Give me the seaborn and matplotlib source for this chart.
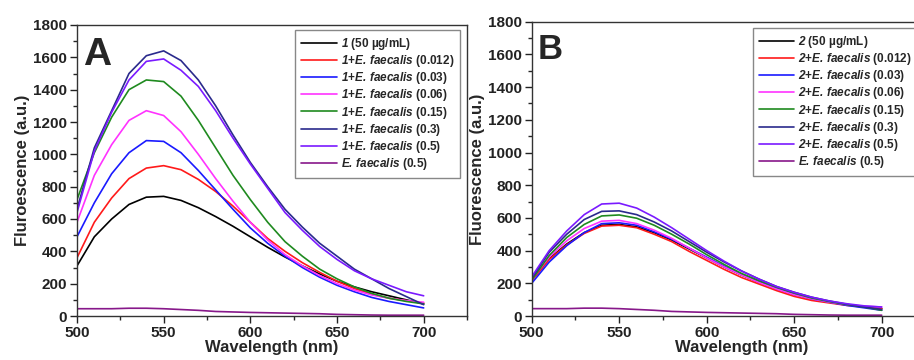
import numpy as np
import pandas as pd
import seaborn as sns
import matplotlib
matplotlib.use("Agg")
import matplotlib.pyplot as plt
from matplotlib.ticker import MultipleLocator

# ---------------- data ----------------
wavelength = list(range(500, 701, 10))

conc_labels = ["(50 µg/mL)", "(0.012)", "(0.03)", "(0.06)", "(0.15)", "(0.3)", "(0.5)", "(0.5)"]
colors = ["#000000", "#ff1a1a", "#1a1aff", "#ff33ff", "#1f8a1f", "#2a2a8c", "#7a1aff", "#87188a"]

# Panel A (compound 1)
a_1 = [310, 490, 600, 690, 735, 740, 715, 670, 615, 555, 490, 425, 365, 310, 260, 215, 180, 150, 125, 100, 75]
a_012 = [360, 580, 730, 850, 915, 930, 905, 845, 770, 680, 580, 480, 400, 330, 270, 215, 170, 135, 110, 95, 80]
a_03 = [490, 700, 880, 1010, 1085, 1080, 1010, 900, 780, 660, 545, 450, 370, 300, 240, 190, 150, 115, 90, 70, 50]
a_06 = [580, 870, 1060, 1210, 1270, 1240, 1140, 1000, 850, 710, 580, 470, 380, 310, 250, 200, 160, 130, 110, 95, 85]
a_15 = [720, 1010, 1230, 1400, 1460, 1450, 1360, 1210, 1040, 870, 720, 580, 460, 370, 290, 230, 180, 140, 110, 90, 75]
a_3 = [660, 1040, 1270, 1500, 1610, 1640, 1580, 1460, 1300, 1120, 950, 800, 660, 550, 450, 370, 290, 230, 170, 120, 70]
a_5 = [640, 1020, 1260, 1460, 1575, 1590, 1520, 1420, 1270, 1100, 940, 790, 640, 530, 430, 350, 280, 230, 190, 150, 125]
ef = [45, 45, 45, 48, 48, 45, 40, 35, 28, 25, 22, 20, 18, 16, 14, 10, 8, 6, 5, 5, 5]

# Panel B (compound 2)
b_2 = [220, 350, 440, 510, 555, 560, 545, 510, 465, 410, 355, 300, 250, 205, 165, 130, 105, 85, 70, 55, 45]
b_012 = [215, 345, 435, 505, 550, 555, 540, 500, 455, 395, 340, 285, 235, 195, 155, 120, 95, 80, 65, 55, 45]
b_03 = [200, 330, 430, 510, 565, 570, 555, 515, 470, 415, 360, 305, 255, 210, 170, 135, 105, 85, 65, 50, 35]
b_06 = [225, 360, 460, 535, 580, 585, 565, 525, 475, 415, 355, 300, 250, 205, 165, 130, 105, 85, 70, 60, 55]
b_15 = [220, 370, 480, 560, 612, 618, 598, 555, 500, 440, 375, 315, 260, 215, 175, 140, 110, 88, 70, 55, 35]
b_3 = [230, 390, 500, 590, 640, 643, 620, 575, 520, 455, 390, 330, 275, 225, 180, 145, 115, 92, 72, 55, 40]
b_5 = [240, 400, 520, 620, 685, 690, 660, 605, 540, 470, 400, 335, 275, 225, 180, 145, 115, 92, 75, 62, 55]

series_a = [a_1, a_012, a_03, a_06, a_15, a_3, a_5, ef]
series_b = [b_2, b_012, b_03, b_06, b_15, b_3, b_5, ef]

# ---------------- style ----------------
sns.set_style("ticks")
plt.rcParams["font.family"] = ["Liberation Sans", "DejaVu Sans"]
plt.rcParams["font.weight"] = "bold"
plt.rcParams["mathtext.fontset"] = "custom"
plt.rcParams["mathtext.rm"] = "Liberation Sans:bold"
plt.rcParams["mathtext.it"] = "Liberation Sans:italic:bold"
plt.rcParams["mathtext.bf"] = "Liberation Sans:bold"
plt.rcParams["mathtext.bfit"] = "Liberation Sans:italic:bold"


def make_labels(c):
    labs = [r"$\mathbfit{%s}$ (50 µg/mL)" % c]
    for cl in conc_labels[1:-1]:
        labs.append(r"$\mathbfit{%s}$+$\mathbfit{E.\,faecalis}$ %s" % (c, cl))
    labs.append(r"$\mathbfit{E.\,faecalis}$ (0.5)")
    return labs


def build_df(series, labels):
    rows = []
    for lab, ys in zip(labels, series):
        for x, y in zip(wavelength, ys):
            rows.append({"wl": x, "fl": y, "s": lab})
    return pd.DataFrame(rows)


fig = plt.figure(figsize=(9.14, 3.6), dpi=100)
W, H = 914, 360
axA = fig.add_axes([77 / W, 44 / H, 390 / W, 291 / H])
axB = fig.add_axes([531.7 / W, 44 / H, 420 / W, 294.3 / H])

panels = [
    (axA, series_a, "1", "A", "Fluroescence (a.u.)", 725, (0.982, 0.983), "upper right", 28),
    (axB, series_b, "2", "B", "Fluorescence (a.u.)", 740, (0.527, 0.979), "upper left", 25),
]

for ax, series, c, letter, ylab, xmax, anchor, loc, lsize in panels:
    labels = make_labels(c)
    df = build_df(series, labels)
    sns.lineplot(data=df, x="wl", y="fl", hue="s", hue_order=labels,
                 palette=colors, linewidth=1.2, ax=ax, legend=True)
    ax.set_xlim(500, xmax)
    ax.set_ylim(0, 1800)
    ax.xaxis.set_major_locator(MultipleLocator(50))
    ax.xaxis.set_minor_locator(MultipleLocator(25))
    ax.yaxis.set_major_locator(MultipleLocator(200))
    ax.yaxis.set_minor_locator(MultipleLocator(100))
    ax.tick_params(axis="both", which="major", direction="out", length=5, width=1,
                   labelsize=11, pad=2, colors="#222222")
    ax.tick_params(axis="both", which="minor", direction="out", length=3, width=1)
    for lab in ax.get_xticklabels() + ax.get_yticklabels():
        lab.set_fontweight("bold")
    for sp in ax.spines.values():
        sp.set_visible(True)
        sp.set_linewidth(1.0)
        sp.set_color("#333333")
    ax.set_xlabel("Wavelength (nm)", fontsize=12, fontweight="bold", labelpad=0)
    ax.set_ylabel(ylab, fontsize=12, fontweight="bold", labelpad=2)
    ax.text(0.015, 0.96, letter, transform=ax.transAxes, fontsize=lsize,
            fontweight="bold", va="top", ha="left")
    handles, labs = ax.get_legend_handles_labels()
    leg = ax.legend(handles, labs, loc=loc, bbox_to_anchor=anchor, borderaxespad=0,
                    prop={"size": 8.5, "weight": "bold"}, frameon=True, fancybox=False,
                    framealpha=1, edgecolor="#888888", handlelength=3.0,
                    handletextpad=0.35, labelspacing=0.1, borderpad=0.5)
    leg.get_frame().set_linewidth(1.0)

fig.savefig("out.png", dpi=100)
